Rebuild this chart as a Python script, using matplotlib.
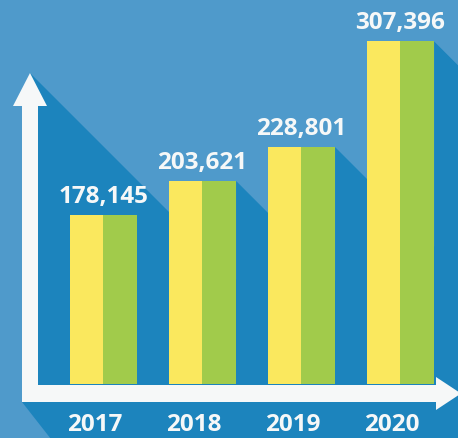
import matplotlib
matplotlib.use("Agg")
import matplotlib.pyplot as plt
from matplotlib.patches import Polygon
from matplotlib.transforms import blended_transform_factory

# Data
years = ["2017", "2018", "2019", "2020"]
values = [178145, 203621, 228801, 307396]
value_labels = ["178,145", "203,621", "228,801", "307,396"]

# Style
BG = "#4f9acb"
SHADOW = "#1c84bd"
YELLOW = "#fae85e"
GREEN = "#a1cb4b"
WHITE = "#f6f8f8"
FONT = "Open Sans"

W, H = 458, 438
fig = plt.figure(figsize=(W / 100, H / 100), dpi=100, facecolor=BG)

# Pixel canvas for decorations (origin top-left)
deco = fig.add_axes([0, 0, 1, 1], zorder=0)
deco.set_xlim(0, W)
deco.set_ylim(H, 0)
deco.axis("off")

# Data axes for the bars
ax = fig.add_axes([0, 0, 1, 1], zorder=1)
ax.patch.set_visible(False)
ax.axis("off")
axis_floor = 53000
ax.set_xlim(-1.045, 3.581)
ax.set_ylim(12560, 338200)

x = list(range(len(years)))
half = 0.34
ax.bar([i - half / 2 for i in x], [v - axis_floor for v in values], bottom=axis_floor,
       width=half, color=YELLOW, linewidth=0, zorder=3)
greens = ax.bar([i + half / 2 for i in x], [v - axis_floor for v in values], bottom=axis_floor,
                width=half, color=GREEN, linewidth=0, zorder=3)

fig.canvas.draw()
to_px = ax.transData + deco.transData.inverted()

floor_row = 402
L = 700

def shadow_from(cx, cy):
    return Polygon([(cx, cy), (cx + L, cy + L), (cx + L, floor_row), (cx, floor_row)],
                   closed=True, facecolor=SHADOW, edgecolor="none", zorder=1)

# Shadow of the vertical arrow
deco.add_patch(shadow_from(30, 73))
# Shadows cast by each bar from its top-right corner
for bar in greens:
    cx, cy = to_px.transform((bar.get_x() + bar.get_width(), bar.get_y() + bar.get_height()))
    deco.add_patch(shadow_from(cx, cy))

# Dark band below the horizontal axis
deco.add_patch(Polygon([(22, floor_row), (W + 10, floor_row), (W + 10, H + 10), (58, H + 10)],
                       closed=True, facecolor=SHADOW, edgecolor="none", zorder=1))

# Axis arrows
deco.add_patch(Polygon([(22, 105), (38, 105), (38, 385), (437, 385), (437, 402), (22, 402)],
                       closed=True, facecolor=WHITE, edgecolor="none", zorder=2))
deco.add_patch(Polygon([(13, 106), (30, 73), (47, 106)],
                       closed=True, facecolor=WHITE, edgecolor="none", zorder=2))
deco.add_patch(Polygon([(436, 377), (461, 393.5), (436, 410)],
                       closed=True, facecolor=WHITE, edgecolor="none", zorder=2))

# Value labels above bars
for i, (v, lab) in enumerate(zip(values, value_labels)):
    ax.annotate(lab, xy=(i, v), xytext=(0, 9), textcoords="offset points",
                ha="center", va="baseline", color=WHITE, fontsize=17.5,
                fontweight="bold", family=FONT, zorder=5)

# Year labels in the band below the axis
year_tf = blended_transform_factory(ax.transData, deco.transData)
for i, yr in enumerate(years):
    ax.annotate(yr, xy=(i, 431), xycoords=year_tf, xytext=(-6, 0), textcoords="offset points",
                ha="center", va="baseline", color=WHITE, fontsize=17.5,
                fontweight="bold", family=FONT, zorder=5)

fig.savefig("out.png", dpi=100, facecolor=BG)
